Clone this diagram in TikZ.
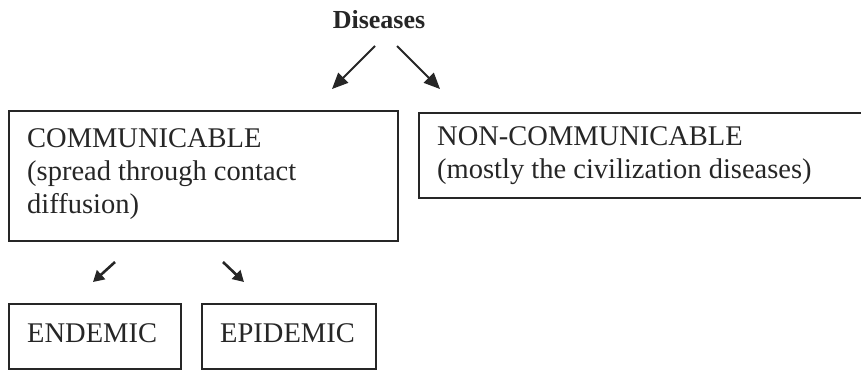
\documentclass[tikz,border=0pt]{standalone}
\usepackage{fontspec}
\setmainfont{Liberation Serif}
\usetikzlibrary{arrows.meta}
\begin{document}
\begin{tikzpicture}[x=1pt,y=-1pt,
  boxstyle/.style={draw=black!85,line width=1.8pt,inner sep=0pt,anchor=north west},
  txt/.style={inner sep=0pt,anchor=base west,align=left,font=\fontsize{28.5}{33}\selectfont,text=black!85},
  bigarrow/.style={line width=1.8pt,draw=black!85,-{Triangle[length=16pt,width=14pt]}},
  smallarrow/.style={line width=2.6pt,draw=black!85,-{Triangle[length=11pt,width=12pt]}}]
\useasboundingbox (0,0) rectangle (861,370);
\begin{scope}
\clip (0,0) rectangle (861,370);
% boxes
\node[boxstyle,minimum width=389pt,minimum height=130pt] (comm) at (8,110) {};
\node[boxstyle,minimum width=470pt,minimum height=85pt] (noncomm) at (418,112) {};
\node[boxstyle,minimum width=172pt,minimum height=65pt] (endemic) at (8,303) {};
\node[boxstyle,minimum width=174pt,minimum height=65pt] (epidemic) at (201,303) {};
\end{scope}
% texts (multi-line nodes: base = last line's baseline)
\node[inner sep=0pt,anchor=base,font=\fontsize{26}{30}\selectfont\bfseries,text=black!85] (dis) at (379,28) {Diseases};
\node[txt] (commtxt) at (27,213) {COMMUNICABLE\\(spread through contact\\diffusion)};
\node[txt] (noncommtxt) at (437,178) {NON-COMMUNICABLE\\(mostly the civilization diseases)};
\node[txt] (endtxt) at (27,342) {ENDEMIC};
\node[txt] (epitxt) at (220,342) {EPIDEMIC};
% arrows
\coordinate (d1) at (375,46);
\coordinate (d2) at (397,46);
\coordinate (c1) at (332,89);
\coordinate (n1) at (440,89);
\coordinate (s1) at (115,262);
\coordinate (s2) at (223,262);
\coordinate (e1) at (93,282);
\coordinate (p1) at (244,282);
\draw[bigarrow] (d1) -- (c1);
\draw[bigarrow] (d2) -- (n1);
\draw[smallarrow] (s1) -- (e1);
\draw[smallarrow] (s2) -- (p1);
\end{tikzpicture}
\end{document}
